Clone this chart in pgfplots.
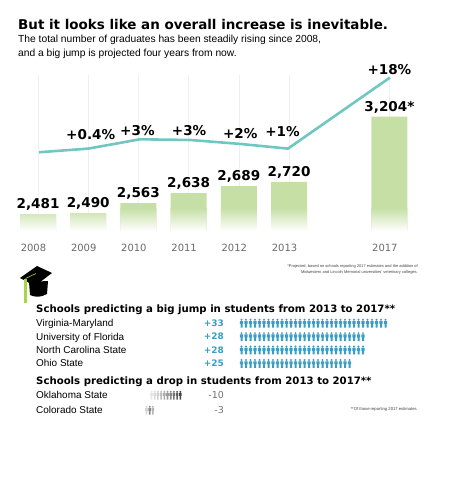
\documentclass[border=0pt]{standalone}
\usepackage{fontspec}
\setmainfont{Liberation Sans}
\newfontfamily\dvs{DejaVu Sans}
\usepackage{pgfplots}
\pgfplotsset{compat=1.18}
\definecolor{barc}{HTML}{C6DFA5}
\definecolor{linec}{HTML}{70C7C2}
\definecolor{iconc}{HTML}{3C9DC3}
\definecolor{tickc}{HTML}{6A6A6A}
\definecolor{tassel}{HTML}{A8D445}
\pgfdeclareplotmark{person}{%
  \pgfpathcircle{\pgfpoint{0bp}{3.3bp}}{1.1bp}%
  \pgfpathrectangle{\pgfpoint{-1.6bp}{-0.9bp}}{\pgfpoint{3.2bp}{2.9bp}}%
  \pgfpathrectangle{\pgfpoint{-1.0bp}{-4.6bp}}{\pgfpoint{2.0bp}{3.8bp}}%
  \pgfusepathqfill}
\pgfdeclareplotmark{personthin}{%
  \pgfpathcircle{\pgfpoint{0bp}{3.3bp}}{1.0bp}%
  \pgfpathrectangle{\pgfpoint{-1.3bp}{-0.9bp}}{\pgfpoint{2.6bp}{2.9bp}}%
  \pgfpathrectangle{\pgfpoint{-0.8bp}{-4.6bp}}{\pgfpoint{1.6bp}{3.8bp}}%
  \pgfusepathqfill}
\begin{document}
\begin{tikzpicture}[x=1bp,y=1bp]
\path[use as bounding box] (0,0) rectangle (450,495);
% titles
\node[anchor=base west, inner sep=0pt] at (18,465.5) {\dvs\bfseries\fontsize{13.5}{15}\selectfont But it looks like an overall increase is inevitable.};
\node[anchor=base west, inner sep=0pt] at (18,452) {\fontsize{10.3}{12}\selectfont The total number of graduates has been steadily rising since 2008,};
\node[anchor=base west, inner sep=0pt] at (18,438.5) {\fontsize{10.3}{12}\selectfont and a big jump is projected four years from now.};
% main chart
\begin{axis}[
  at={(12.9bp,264bp)}, anchor=south west,
  scale only axis, width=401.6bp, height=156.1bp,
  xmin=-0.5, xmax=7.5, ymin=2357, ymax=3513,
  y coord trafo/.code={\pgfmathparse{#1-2357}},
  y coord inv trafo/.code={\pgfmathparse{#1+2357}},
  axis line style={draw=none},
  ytick=\empty,
  xtick={0,1,2,3,4,5,7},
  xticklabels={2008,2009,2010,2011,2012,2013,2017},
  major tick length=0pt,
  xticklabel style={font=\dvs\fontsize{10}{12}\selectfont, text=tickc, anchor=center, yshift=-16.5bp, xshift=-4.5bp},
  xmajorgrids, grid style={black!6, line width=0.5bp},
  clip=false,
]
\addplot[ybar, bar width=36bp, bar shift=0pt, fill=barc, draw=none,
  point meta=explicit symbolic, nodes near coords,
  nodes near coords style={font=\dvs\bfseries\fontsize{13.6}{15}\selectfont, text=black, anchor=base, inner sep=0pt, yshift=5.5bp}]
  coordinates {(0,2481)[2,481] (1,2490)[2,490] (2,2563)[2,563] (3,2638)[2,638] (4,2689)[2,689] (5,2720)[2,720] (7,3204)[3,204*]};
\addplot[ybar, bar width=36bp, bar shift=0pt, draw=none, top color=barc, bottom color=white]
  coordinates {(0,2481) (1,2490) (2,2527) (3,2527) (4,2527) (5,2527) (7,2527)};
\addplot[linec, line width=2.6bp, mark=none]
  coordinates {(0.02,2940) (1,2967) (2.03,3036) (3.03,3031) (4.02,3002) (4.98,2967) (7.01,3493)};
\addplot[draw=none, mark=none, point meta=explicit symbolic, nodes near coords,
  nodes near coords style={font=\dvs\bfseries\fontsize{13.6}{15}\selectfont, text=black, anchor=center, inner sep=0pt}]
  coordinates {(1.05,3068)[+0.4\%] (1.98,3101)[+3\%] (3.01,3101)[+3\%] (4.03,3076)[+2\%] (4.87,3094)[+1\%] (7.0,3550)[+18\%]};
\end{axis}
% footnote 1
\node[anchor=base east, inner sep=0pt, text=black!75] at (418,227) {\fontsize{4}{5}\selectfont *Projected, based on schools reporting 2017 estimates and the addition of};
\node[anchor=base east, inner sep=0pt, text=black!75] at (418,221.5) {\fontsize{4}{5}\selectfont Midwestern and Lincoln Memorial universities' veterinary colleges.};
% graduation cap
\fill[black] (29,213) -- (48,214) -- (47,201) .. controls (41,197.5) and (35,197.5) .. (30,200) -- cycle;
\fill[black] (20,217) -- (37,229) -- (52,222) -- (35,209) -- cycle;
\draw[tassel, line width=0.6bp] (36,221.5) -- (25.5,216.5);
\draw[tassel, line width=2.2bp] (25.5,216) -- (25.5,192);
% big jump section
\node[anchor=base west, inner sep=0pt] at (36,182) {\dvs\bfseries\fontsize{10.2}{12}\selectfont Schools predicting a big jump in students from 2013 to 2017**};
\node[anchor=base west, inner sep=0pt] at (36,168.4) {\fontsize{10}{12}\selectfont Virginia-Maryland};
\node[anchor=base west, inner sep=0pt] at (36,154.8) {\fontsize{10}{12}\selectfont University of Florida};
\node[anchor=base west, inner sep=0pt] at (36,141.4) {\fontsize{10}{12}\selectfont North Carolina State};
\node[anchor=base west, inner sep=0pt] at (36,128.1) {\fontsize{10}{12}\selectfont Ohio State};
\node[anchor=east, inner sep=0pt, text=iconc] at (224,172) {\dvs\bfseries\fontsize{9}{11}\selectfont +33};
\node[anchor=east, inner sep=0pt, text=iconc] at (224,158.4) {\dvs\bfseries\fontsize{9}{11}\selectfont +28};
\node[anchor=east, inner sep=0pt, text=iconc] at (224,145) {\dvs\bfseries\fontsize{9}{11}\selectfont +28};
\node[anchor=east, inner sep=0pt, text=iconc] at (224,131.7) {\dvs\bfseries\fontsize{9}{11}\selectfont +25};
\begin{axis}[
  at={(239.25bp,178.7bp)}, anchor=north west,
  scale only axis, width=148.5bp, height=53.7bp,
  xmin=0.5, xmax=33.5, ymin=0.5, ymax=4.5, y dir=reverse,
  hide axis, clip=false]
\addplot[iconc, only marks, mark=person] coordinates {(1,1) (2,1) (3,1) (4,1) (5,1) (6,1) (7,1) (8,1) (9,1) (10,1) (11,1) (12,1) (13,1) (14,1) (15,1) (16,1) (17,1) (18,1) (19,1) (20,1) (21,1) (22,1) (23,1) (24,1) (25,1) (26,1) (27,1) (28,1) (29,1) (30,1) (31,1) (32,1) (33,1)};
\addplot[iconc, only marks, mark=person] coordinates {(1,2) (2,2) (3,2) (4,2) (5,2) (6,2) (7,2) (8,2) (9,2) (10,2) (11,2) (12,2) (13,2) (14,2) (15,2) (16,2) (17,2) (18,2) (19,2) (20,2) (21,2) (22,2) (23,2) (24,2) (25,2) (26,2) (27,2) (28,2)};
\addplot[iconc, only marks, mark=person] coordinates {(1,3) (2,3) (3,3) (4,3) (5,3) (6,3) (7,3) (8,3) (9,3) (10,3) (11,3) (12,3) (13,3) (14,3) (15,3) (16,3) (17,3) (18,3) (19,3) (20,3) (21,3) (22,3) (23,3) (24,3) (25,3) (26,3) (27,3) (28,3)};
\addplot[iconc, only marks, mark=person] coordinates {(1,4) (2,4) (3,4) (4,4) (5,4) (6,4) (7,4) (8,4) (9,4) (10,4) (11,4) (12,4) (13,4) (14,4) (15,4) (16,4) (17,4) (18,4) (19,4) (20,4) (21,4) (22,4) (23,4) (24,4) (25,4)};
\end{axis}
% drop section
\node[anchor=base west, inner sep=0pt] at (36,110.3) {\dvs\bfseries\fontsize{10.2}{12}\selectfont Schools predicting a drop in students from 2013 to 2017**};
\node[anchor=base west, inner sep=0pt] at (36,96.4) {\fontsize{10}{12}\selectfont Oklahoma State};
\node[anchor=base west, inner sep=0pt] at (36,81.4) {\fontsize{10}{12}\selectfont Colorado State};
\node[anchor=east, inner sep=0pt, text=black!55] at (224,100) {\dvs\fontsize{9.5}{11}\selectfont -10};
\node[anchor=east, inner sep=0pt, text=black!55] at (224,85) {\dvs\fontsize{9.5}{11}\selectfont -3};
\begin{axis}[
  at={(149.9bp,107.5bp)}, anchor=north west,
  scale only axis, width=32bp, height=30bp,
  xmin=0.5, xmax=10.5, ymin=0.5, ymax=2.5, y dir=reverse,
  hide axis, clip=false,
  colormap={gr}{color=(black!6) color=(black!72)},
  point meta min=0, point meta max=1]
\addplot[scatter, only marks, mark=personthin, point meta=explicit]
  coordinates {(1,1)[0.05] (2,1)[0.12] (3,1)[0.2] (4,1)[0.3] (5,1)[0.4] (6,1)[0.5] (7,1)[0.6] (8,1)[0.72] (9,1)[0.85] (10,1)[1]};
\addplot[scatter, only marks, mark=personthin, point meta=explicit, xshift=-5bp]
  coordinates {(1,2)[0.15] (2,2)[0.6] (3,2)[0.35]};
\end{axis}
\node[anchor=base east, inner sep=0pt, text=black!75] at (417,84.5) {\fontsize{4.2}{5}\selectfont **Of those reporting 2017 estimates};
\end{tikzpicture}
\end{document}
